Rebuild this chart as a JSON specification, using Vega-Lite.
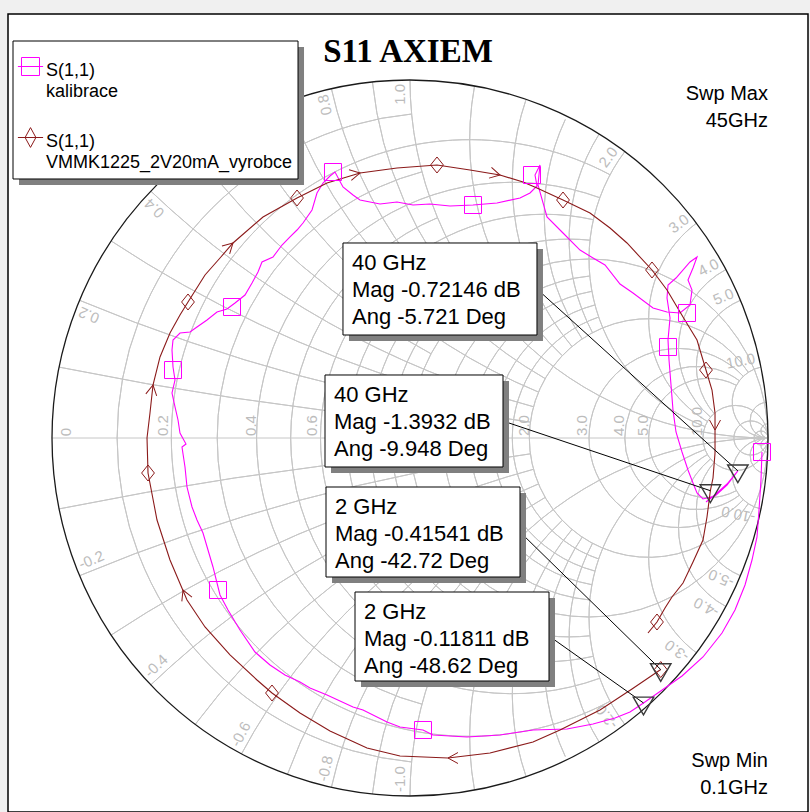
{
  "$schema": "https://vega.github.io/schema/vega-lite/v6.json",
  "width": 800,
  "height": 798,
  "autosize": "none",
  "padding": {"left": 8, "top": 14, "right": 2, "bottom": 0},
  "background": "#f0f0f0",
  "title": {"text": "S11 AXIEM", "font": "Liberation Serif", "fontSize": 33, "fontWeight": "bold", "color": "#000000", "anchor": "middle", "frame": "group", "offset": -81, "baseline": "alphabetic"},
  "config": {"view": {"fill": "white", "stroke": "#000000", "strokeWidth": 1.5}},
  "datasets": {
    "grid": [
      {"gx":0.090909,"gy":0,"rad":0.909091,"t1":-3.04639,"t2":-0.09517},
      {"gx":0.166667,"gy":0,"rad":0.833333,"t1":-3.63155,"t2":0.48995},
      {"gx":0.230769,"gy":0,"rad":0.769231,"t1":-2.88218,"t2":-0.25939},
      {"gx":0.285714,"gy":0,"rad":0.714286,"t1":-3.49094,"t2":0.34935},
      {"gx":0.333333,"gy":0,"rad":0.666667,"t1":-2.74680,"t2":-0.39479},
      {"gx":0.375,"gy":0,"rad":0.625,"t1":-3.36290,"t2":0.22131},
      {"gx":0.411765,"gy":0,"rad":0.588235,"t1":-2.63426,"t2":-0.50733},
      {"gx":0.444444,"gy":0,"rad":0.555556,"t1":-3.24676,"t2":0.10517},
      {"gx":0.473684,"gy":0,"rad":0.526316,"t1":-2.53977,"t2":-0.60182},
      {"gx":0.5,"gy":0,"rad":0.5,"t1":0,"t2":6.28319},
      {"gx":0.545455,"gy":0,"rad":0.454545,"t1":-3.04639,"t2":-0.09517},
      {"gx":0.583333,"gy":0,"rad":0.416667,"t1":-2.96025,"t2":-0.18132},
      {"gx":0.615385,"gy":0,"rad":0.384615,"t1":-2.88218,"t2":-0.25939},
      {"gx":0.642857,"gy":0,"rad":0.357143,"t1":-2.81128,"t2":-0.33029},
      {"gx":0.666667,"gy":0,"rad":0.333333,"t1":-4.12950,"t2":0.98788},
      {"gx":0.75,"gy":0,"rad":0.25,"t1":-3.95140,"t2":0.80978},
      {"gx":0.8,"gy":0,"rad":0.2,"t1":-3.78512,"t2":0.64350},
      {"gx":0.833333,"gy":0,"rad":0.166667,"t1":-3.63155,"t2":0.48995},
      {"gx":0.909091,"gy":0,"rad":0.090909,"t1":0,"t2":6.28319},
      {"gx":0.952381,"gy":0,"rad":0.047619,"t1":0,"t2":6.28319},
      {"gx":0.980392,"gy":0,"rad":0.019608,"t1":0,"t2":6.28319},
      {"gx":1,"gy":10,"rad":10,"t1":3.24151,"t2":3.34093},
      {"gx":1,"gy":-10,"rad":10,"t1":-0.19934,"t2":-0.09992},
      {"gx":1,"gy":5,"rad":5,"t1":3.27472,"t2":3.53638},
      {"gx":1,"gy":-5,"rad":5,"t1":-0.39479,"t2":-0.13313},
      {"gx":1,"gy":3.333333,"rad":3.333333,"t1":3.43938,"t2":3.72449},
      {"gx":1,"gy":-3.333333,"rad":3.333333,"t1":-0.58290,"t2":-0.29779},
      {"gx":1,"gy":2.5,"rad":2.5,"t1":3.40669,"t2":3.90261},
      {"gx":1,"gy":-2.5,"rad":2.5,"t1":-0.76102,"t2":-0.26510},
      {"gx":1,"gy":2,"rad":2,"t1":3.63154,"t2":4.06889},
      {"gx":1,"gy":-2,"rad":2,"t1":-0.92730,"t2":-0.48995},
      {"gx":1,"gy":1.666667,"rad":1.666667,"t1":3.53638,"t2":4.22244},
      {"gx":1,"gy":-1.666667,"rad":1.666667,"t1":-1.08085,"t2":-0.39479},
      {"gx":1,"gy":1.428571,"rad":1.428571,"t1":3.81494,"t2":4.36304},
      {"gx":1,"gy":-1.428571,"rad":1.428571,"t1":-1.22145,"t2":-0.67335},
      {"gx":1,"gy":1.25,"rad":1.25,"t1":3.66278,"t2":4.49108},
      {"gx":1,"gy":-1.25,"rad":1.25,"t1":-1.34949,"t2":-0.52119},
      {"gx":1,"gy":1.111111,"rad":1.111111,"t1":3.98729,"t2":4.60721},
      {"gx":1,"gy":-1.111111,"rad":1.111111,"t1":-1.46562,"t2":-0.84570},
      {"gx":1,"gy":1,"rad":1,"t1":3.14159,"t2":4.71239},
      {"gx":1,"gy":-1,"rad":1,"t1":-1.57080,"t2":0},
      {"gx":1,"gy":0.833333,"rad":0.833333,"t1":3.90261,"t2":4.89371},
      {"gx":1,"gy":-0.833333,"rad":0.833333,"t1":-1.75212,"t2":-0.76102},
      {"gx":1,"gy":0.714286,"rad":0.714286,"t1":4.01485,"t2":5.04268},
      {"gx":1,"gy":-0.714286,"rad":0.714286,"t1":-1.90109,"t2":-0.87326},
      {"gx":1,"gy":0.625,"rad":0.625,"t1":4.12151,"t2":5.14973},
      {"gx":1,"gy":-0.625,"rad":0.625,"t1":-2.00814,"t2":-0.97992},
      {"gx":1,"gy":0.555556,"rad":0.555556,"t1":4.22244,"t2":5.26900},
      {"gx":1,"gy":-0.555556,"rad":0.555556,"t1":-2.12741,"t2":-1.08085},
      {"gx":1,"gy":0.5,"rad":0.5,"t1":3.50130,"t2":5.35589},
      {"gx":1,"gy":-0.5,"rad":0.5,"t1":-2.21430,"t2":-0.35971},
      {"gx":1,"gy":0.333333,"rad":0.333333,"t1":3.67409,"t2":5.63968},
      {"gx":1,"gy":-0.333333,"rad":0.333333,"t1":-2.49809,"t2":-0.53250},
      {"gx":1,"gy":0.25,"rad":0.25,"t1":3.83913,"t2":5.79324},
      {"gx":1,"gy":-0.25,"rad":0.25,"t1":-2.65165,"t2":-0.69754},
      {"gx":1,"gy":0.2,"rad":0.2,"t1":3.99485,"t2":5.88839},
      {"gx":1,"gy":-0.2,"rad":0.2,"t1":-2.74680,"t2":-0.85326},
      {"gx":1,"gy":0.1,"rad":0.1,"t1":3.14159,"t2":6.08385},
      {"gx":1,"gy":-0.1,"rad":0.1,"t1":-2.94226,"t2":0},
      {"gx":1,"gy":0.05,"rad":0.05,"t1":3.14159,"t2":6.18329},
      {"gx":1,"gy":-0.05,"rad":0.05,"t1":-3.04170,"t2":0},
      {"gx":1,"gy":0.02,"rad":0.02,"t1":3.14159,"t2":6.24318},
      {"gx":1,"gy":-0.02,"rad":0.02,"t1":-3.10159,"t2":0}
    ],
    "rim": [{"gx":0,"gy":0,"rad":1,"t1":0,"t2":6.28319}],
    "axisline": [{"gx":-1,"gx2":1,"gy":0}],
    "glabels": [
      {"t":"0","gx":-0.9609,"gy":0.0168,"rot":-90},
      {"t":"0.2","gx":-0.6899,"gy":0.0349,"rot":-90},
      {"t":"0.4","gx":-0.4441,"gy":0.0349,"rot":-90},
      {"t":"0.6","gx":-0.2737,"gy":0.0349,"rot":-90},
      {"t":"0.8","gx":-0.1271,"gy":0.0349,"rot":-90},
      {"t":"1.0","gx":-0.0168,"gy":0.0349,"rot":-90},
      {"t":"2.0","gx":0.3184,"gy":0.0349,"rot":-90},
      {"t":"3.0","gx":0.4804,"gy":0.0349,"rot":-90},
      {"t":"4.0","gx":0.5838,"gy":0.0349,"rot":-90},
      {"t":"5.0","gx":0.6508,"gy":0.0349,"rot":-90},
      {"t":"10.0","gx":0.8017,"gy":0.0461,"rot":-90},
      {"t":"0.2","gx":-0.8967,"gy":0.3434,"rot":-157.38},
      {"t":"0.4","gx":-0.7143,"gy":0.6417,"rot":-136.40},
      {"t":"0.6","gx":-0.4763,"gy":0.8337,"rot":-118.07},
      {"t":"0.8","gx":-0.2379,"gy":0.9303,"rot":-102.68},
      {"t":"1.0","gx":-0.0279,"gy":0.9598,"rot":-90},
      {"t":"2.0","gx":0.5535,"gy":0.7846,"rot":-53.13},
      {"t":"3.0","gx":0.7511,"gy":0.5982,"rot":-36.87},
      {"t":"4.0","gx":0.8337,"gy":0.4763,"rot":-28.07},
      {"t":"5.0","gx":0.8752,"gy":0.3949,"rot":-22.62},
      {"t":"10.0","gx":0.9237,"gy":0.2151,"rot":-11.42},
      {"t":"-0.2","gx":-0.8903,"gy":-0.3407,"rot":-22.62},
      {"t":"-0.4","gx":-0.7092,"gy":-0.6369,"rot":-43.60},
      {"t":"-0.6","gx":-0.4730,"gy":-0.8276,"rot":-61.93},
      {"t":"-0.8","gx":-0.2364,"gy":-0.9234,"rot":-77.32},
      {"t":"-1.0","gx":-0.0279,"gy":-0.9528,"rot":-90},
      {"t":"-2.0","gx":0.5493,"gy":-0.7790,"rot":-126.87},
      {"t":"-3.0","gx":0.7455,"gy":-0.5940,"rot":-143.13},
      {"t":"-4.0","gx":0.8276,"gy":-0.4730,"rot":-151.93},
      {"t":"-5.0","gx":0.8688,"gy":-0.3923,"rot":-157.38},
      {"t":"-10.0","gx":0.9169,"gy":-0.2137,"rot":-168.58}
    ],
    "traces": [
      {"s":"kalibrace","i":1,"gx":0.9832,"gy":-0.0391},
      {"s":"kalibrace","i":2,"gx":0.9804,"gy":-0.1173},
      {"s":"kalibrace","i":3,"gx":0.9749,"gy":-0.2011},
      {"s":"kalibrace","i":4,"gx":0.9693,"gy":-0.2765},
      {"s":"kalibrace","i":5,"gx":0.9553,"gy":-0.3408},
      {"s":"kalibrace","i":6,"gx":0.9358,"gy":-0.4106},
      {"s":"kalibrace","i":7,"gx":0.9078,"gy":-0.4804},
      {"s":"kalibrace","i":8,"gx":0.8715,"gy":-0.5447},
      {"s":"kalibrace","i":9,"gx":0.8184,"gy":-0.6117},
      {"s":"kalibrace","i":10,"gx":0.7598,"gy":-0.6648},
      {"s":"kalibrace","i":11,"gx":0.7123,"gy":-0.6983},
      {"s":"kalibrace","i":12,"gx":0.6522,"gy":-0.7401},
      {"s":"kalibrace","i":13,"gx":0.6145,"gy":-0.7654},
      {"s":"kalibrace","i":14,"gx":0.5726,"gy":-0.7821},
      {"s":"kalibrace","i":15,"gx":0.5112,"gy":-0.7989},
      {"s":"kalibrace","i":16,"gx":0.4385,"gy":-0.8128},
      {"s":"kalibrace","i":17,"gx":0.3436,"gy":-0.8156},
      {"s":"kalibrace","i":18,"gx":0.2514,"gy":-0.8296},
      {"s":"kalibrace","i":19,"gx":0.1592,"gy":-0.8352},
      {"s":"kalibrace","i":20,"gx":0.0642,"gy":-0.8296},
      {"s":"kalibrace","i":21,"gx":0.0363,"gy":-0.8156},
      {"s":"kalibrace","i":22,"gx":-0.0279,"gy":-0.8073},
      {"s":"kalibrace","i":23,"gx":-0.0642,"gy":-0.7933},
      {"s":"kalibrace","i":24,"gx":-0.1313,"gy":-0.7598},
      {"s":"kalibrace","i":25,"gx":-0.1592,"gy":-0.7514},
      {"s":"kalibrace","i":26,"gx":-0.2318,"gy":-0.7179},
      {"s":"kalibrace","i":27,"gx":-0.2793,"gy":-0.6983},
      {"s":"kalibrace","i":28,"gx":-0.3073,"gy":-0.6816},
      {"s":"kalibrace","i":29,"gx":-0.3492,"gy":-0.6620},
      {"s":"kalibrace","i":30,"gx":-0.3911,"gy":-0.6341},
      {"s":"kalibrace","i":31,"gx":-0.4330,"gy":-0.5978},
      {"s":"kalibrace","i":32,"gx":-0.4749,"gy":-0.5363},
      {"s":"kalibrace","i":33,"gx":-0.5084,"gy":-0.4804},
      {"s":"kalibrace","i":34,"gx":-0.5307,"gy":-0.4385},
      {"s":"kalibrace","i":35,"gx":-0.5503,"gy":-0.3603},
      {"s":"kalibrace","i":36,"gx":-0.5782,"gy":-0.2654},
      {"s":"kalibrace","i":37,"gx":-0.5950,"gy":-0.2291},
      {"s":"kalibrace","i":38,"gx":-0.6089,"gy":-0.1927},
      {"s":"kalibrace","i":39,"gx":-0.6229,"gy":-0.1369},
      {"s":"kalibrace","i":40,"gx":-0.6285,"gy":-0.0810},
      {"s":"kalibrace","i":41,"gx":-0.6369,"gy":-0.0251},
      {"s":"kalibrace","i":42,"gx":-0.6257,"gy":-0.0168},
      {"s":"kalibrace","i":43,"gx":-0.6425,"gy":0.0140},
      {"s":"kalibrace","i":44,"gx":-0.6480,"gy":0.0503},
      {"s":"kalibrace","i":45,"gx":-0.6564,"gy":0.0866},
      {"s":"kalibrace","i":46,"gx":-0.6648,"gy":0.1257},
      {"s":"kalibrace","i":47,"gx":-0.6564,"gy":0.1620},
      {"s":"kalibrace","i":48,"gx":-0.6620,"gy":0.1983},
      {"s":"kalibrace","i":49,"gx":-0.6648,"gy":0.2458},
      {"s":"kalibrace","i":50,"gx":-0.6620,"gy":0.2737},
      {"s":"kalibrace","i":51,"gx":-0.6425,"gy":0.2933},
      {"s":"kalibrace","i":52,"gx":-0.6145,"gy":0.2961},
      {"s":"kalibrace","i":53,"gx":-0.5950,"gy":0.3101},
      {"s":"kalibrace","i":54,"gx":-0.5670,"gy":0.3296},
      {"s":"kalibrace","i":55,"gx":-0.5391,"gy":0.3520},
      {"s":"kalibrace","i":56,"gx":-0.5112,"gy":0.3603},
      {"s":"kalibrace","i":57,"gx":-0.4888,"gy":0.3771},
      {"s":"kalibrace","i":58,"gx":-0.4609,"gy":0.3994},
      {"s":"kalibrace","i":59,"gx":-0.4413,"gy":0.4330},
      {"s":"kalibrace","i":60,"gx":-0.4246,"gy":0.4637},
      {"s":"kalibrace","i":61,"gx":-0.4134,"gy":0.4916},
      {"s":"kalibrace","i":62,"gx":-0.3827,"gy":0.5056},
      {"s":"kalibrace","i":63,"gx":-0.3575,"gy":0.5391},
      {"s":"kalibrace","i":64,"gx":-0.3352,"gy":0.5615},
      {"s":"kalibrace","i":65,"gx":-0.3156,"gy":0.5810},
      {"s":"kalibrace","i":66,"gx":-0.2989,"gy":0.6006},
      {"s":"kalibrace","i":67,"gx":-0.2737,"gy":0.6369},
      {"s":"kalibrace","i":68,"gx":-0.2598,"gy":0.6844},
      {"s":"kalibrace","i":69,"gx":-0.2430,"gy":0.7123},
      {"s":"kalibrace","i":70,"gx":-0.2235,"gy":0.7318},
      {"s":"kalibrace","i":71,"gx":-0.2095,"gy":0.7430},
      {"s":"kalibrace","i":72,"gx":-0.1872,"gy":0.7011},
      {"s":"kalibrace","i":73,"gx":-0.1592,"gy":0.6788},
      {"s":"kalibrace","i":74,"gx":-0.1397,"gy":0.6648},
      {"s":"kalibrace","i":75,"gx":-0.0838,"gy":0.6536},
      {"s":"kalibrace","i":76,"gx":-0.0363,"gy":0.6592},
      {"s":"kalibrace","i":77,"gx":0.0084,"gy":0.6508},
      {"s":"kalibrace","i":78,"gx":0.0559,"gy":0.6536},
      {"s":"kalibrace","i":79,"gx":0.1117,"gy":0.6480},
      {"s":"kalibrace","i":80,"gx":0.1760,"gy":0.6508},
      {"s":"kalibrace","i":81,"gx":0.2430,"gy":0.6564},
      {"s":"kalibrace","i":82,"gx":0.3073,"gy":0.6704},
      {"s":"kalibrace","i":83,"gx":0.3352,"gy":0.6844},
      {"s":"kalibrace","i":84,"gx":0.3547,"gy":0.7039},
      {"s":"kalibrace","i":85,"gx":0.3492,"gy":0.7346},
      {"s":"kalibrace","i":86,"gx":0.3631,"gy":0.7626},
      {"s":"kalibrace","i":87,"gx":0.3575,"gy":0.7067},
      {"s":"kalibrace","i":88,"gx":0.3827,"gy":0.6173},
      {"s":"kalibrace","i":89,"gx":0.4274,"gy":0.5726},
      {"s":"kalibrace","i":90,"gx":0.4749,"gy":0.5251},
      {"s":"kalibrace","i":91,"gx":0.5112,"gy":0.5028},
      {"s":"kalibrace","i":92,"gx":0.5447,"gy":0.4832},
      {"s":"kalibrace","i":93,"gx":0.5866,"gy":0.4302},
      {"s":"kalibrace","i":94,"gx":0.6229,"gy":0.4050},
      {"s":"kalibrace","i":95,"gx":0.6788,"gy":0.3631},
      {"s":"kalibrace","i":96,"gx":0.7179,"gy":0.3520},
      {"s":"kalibrace","i":97,"gx":0.7542,"gy":0.3492},
      {"s":"kalibrace","i":98,"gx":0.7821,"gy":0.3715},
      {"s":"kalibrace","i":99,"gx":0.7877,"gy":0.4134},
      {"s":"kalibrace","i":100,"gx":0.7765,"gy":0.4413},
      {"s":"kalibrace","i":101,"gx":0.7905,"gy":0.4749},
      {"s":"kalibrace","i":102,"gx":0.8017,"gy":0.5056},
      {"s":"kalibrace","i":103,"gx":0.7821,"gy":0.4916},
      {"s":"kalibrace","i":104,"gx":0.7430,"gy":0.4469},
      {"s":"kalibrace","i":105,"gx":0.7207,"gy":0.4274},
      {"s":"kalibrace","i":106,"gx":0.7179,"gy":0.3911},
      {"s":"kalibrace","i":107,"gx":0.7263,"gy":0.3352},
      {"s":"kalibrace","i":108,"gx":0.7207,"gy":0.2737},
      {"s":"kalibrace","i":109,"gx":0.7235,"gy":0.2179},
      {"s":"kalibrace","i":110,"gx":0.7291,"gy":0.1480},
      {"s":"kalibrace","i":111,"gx":0.7346,"gy":0.0782},
      {"s":"kalibrace","i":112,"gx":0.7430,"gy":0.0168},
      {"s":"kalibrace","i":113,"gx":0.7598,"gy":-0.0391},
      {"s":"kalibrace","i":114,"gx":0.7765,"gy":-0.0894},
      {"s":"kalibrace","i":115,"gx":0.7905,"gy":-0.1257},
      {"s":"kalibrace","i":116,"gx":0.8017,"gy":-0.1536},
      {"s":"kalibrace","i":117,"gx":0.8184,"gy":-0.1704},
      {"s":"kalibrace","i":118,"gx":0.8520,"gy":-0.1620},
      {"s":"kalibrace","i":119,"gx":0.8855,"gy":-0.1313},
      {"s":"kalibrace","i":120,"gx":0.9158,"gy":-0.0917},
      {"s":"kalibrace","i":121,"gx":0.8855,"gy":-0.1285},
      {"s":"kalibrace","i":122,"gx":0.8547,"gy":-0.1564},
      {"s":"kalibrace","i":123,"gx":0.8268,"gy":-0.1788},
      {"s":"VMMK1225_2V20mA_vyrobce","i":1,"gx":0.7004,"gy":-0.6468},
      {"s":"VMMK1225_2V20mA_vyrobce","i":2,"gx":0.6201,"gy":-0.7011},
      {"s":"VMMK1225_2V20mA_vyrobce","i":3,"gx":0.5307,"gy":-0.7598},
      {"s":"VMMK1225_2V20mA_vyrobce","i":4,"gx":0.4190,"gy":-0.8156},
      {"s":"VMMK1225_2V20mA_vyrobce","i":5,"gx":0.3436,"gy":-0.8492},
      {"s":"VMMK1225_2V20mA_vyrobce","i":6,"gx":0.2235,"gy":-0.8799},
      {"s":"VMMK1225_2V20mA_vyrobce","i":7,"gx":0.1061,"gy":-0.8939},
      {"s":"VMMK1225_2V20mA_vyrobce","i":8,"gx":-0.0279,"gy":-0.8883},
      {"s":"VMMK1225_2V20mA_vyrobce","i":9,"gx":-0.1201,"gy":-0.8659},
      {"s":"VMMK1225_2V20mA_vyrobce","i":10,"gx":-0.2235,"gy":-0.8184},
      {"s":"VMMK1225_2V20mA_vyrobce","i":11,"gx":-0.3073,"gy":-0.7682},
      {"s":"VMMK1225_2V20mA_vyrobce","i":12,"gx":-0.3855,"gy":-0.7123},
      {"s":"VMMK1225_2V20mA_vyrobce","i":13,"gx":-0.4274,"gy":-0.6760},
      {"s":"VMMK1225_2V20mA_vyrobce","i":14,"gx":-0.5028,"gy":-0.6061},
      {"s":"VMMK1225_2V20mA_vyrobce","i":15,"gx":-0.5726,"gy":-0.5279},
      {"s":"VMMK1225_2V20mA_vyrobce","i":16,"gx":-0.6229,"gy":-0.4525},
      {"s":"VMMK1225_2V20mA_vyrobce","i":17,"gx":-0.6704,"gy":-0.3408},
      {"s":"VMMK1225_2V20mA_vyrobce","i":18,"gx":-0.7067,"gy":-0.2291},
      {"s":"VMMK1225_2V20mA_vyrobce","i":19,"gx":-0.7318,"gy":-0.0978},
      {"s":"VMMK1225_2V20mA_vyrobce","i":20,"gx":-0.7346,"gy":0},
      {"s":"VMMK1225_2V20mA_vyrobce","i":21,"gx":-0.7263,"gy":0.0698},
      {"s":"VMMK1225_2V20mA_vyrobce","i":22,"gx":-0.7179,"gy":0.1480},
      {"s":"VMMK1225_2V20mA_vyrobce","i":23,"gx":-0.6983,"gy":0.2263},
      {"s":"VMMK1225_2V20mA_vyrobce","i":24,"gx":-0.6704,"gy":0.2933},
      {"s":"VMMK1225_2V20mA_vyrobce","i":25,"gx":-0.6425,"gy":0.3436},
      {"s":"VMMK1225_2V20mA_vyrobce","i":26,"gx":-0.6201,"gy":0.3799},
      {"s":"VMMK1225_2V20mA_vyrobce","i":27,"gx":-0.5726,"gy":0.4553},
      {"s":"VMMK1225_2V20mA_vyrobce","i":28,"gx":-0.5307,"gy":0.5028},
      {"s":"VMMK1225_2V20mA_vyrobce","i":29,"gx":-0.4944,"gy":0.5447},
      {"s":"VMMK1225_2V20mA_vyrobce","i":30,"gx":-0.4106,"gy":0.6173},
      {"s":"VMMK1225_2V20mA_vyrobce","i":31,"gx":-0.3156,"gy":0.6704},
      {"s":"VMMK1225_2V20mA_vyrobce","i":32,"gx":-0.2318,"gy":0.7123},
      {"s":"VMMK1225_2V20mA_vyrobce","i":33,"gx":-0.1397,"gy":0.7402},
      {"s":"VMMK1225_2V20mA_vyrobce","i":34,"gx":-0.0363,"gy":0.7542},
      {"s":"VMMK1225_2V20mA_vyrobce","i":35,"gx":0.0754,"gy":0.7626},
      {"s":"VMMK1225_2V20mA_vyrobce","i":36,"gx":0.1676,"gy":0.7486},
      {"s":"VMMK1225_2V20mA_vyrobce","i":37,"gx":0.2514,"gy":0.7346},
      {"s":"VMMK1225_2V20mA_vyrobce","i":38,"gx":0.3156,"gy":0.7151},
      {"s":"VMMK1225_2V20mA_vyrobce","i":39,"gx":0.3547,"gy":0.6983},
      {"s":"VMMK1225_2V20mA_vyrobce","i":40,"gx":0.4274,"gy":0.6648},
      {"s":"VMMK1225_2V20mA_vyrobce","i":41,"gx":0.5028,"gy":0.6285},
      {"s":"VMMK1225_2V20mA_vyrobce","i":42,"gx":0.5587,"gy":0.5866},
      {"s":"VMMK1225_2V20mA_vyrobce","i":43,"gx":0.6061,"gy":0.5447},
      {"s":"VMMK1225_2V20mA_vyrobce","i":44,"gx":0.6760,"gy":0.4693},
      {"s":"VMMK1225_2V20mA_vyrobce","i":45,"gx":0.7179,"gy":0.4134},
      {"s":"VMMK1225_2V20mA_vyrobce","i":46,"gx":0.7626,"gy":0.3380},
      {"s":"VMMK1225_2V20mA_vyrobce","i":47,"gx":0.8017,"gy":0.2737},
      {"s":"VMMK1225_2V20mA_vyrobce","i":48,"gx":0.8268,"gy":0.1899},
      {"s":"VMMK1225_2V20mA_vyrobce","i":49,"gx":0.8436,"gy":0.1341},
      {"s":"VMMK1225_2V20mA_vyrobce","i":50,"gx":0.8520,"gy":0.0698},
      {"s":"VMMK1225_2V20mA_vyrobce","i":51,"gx":0.8520,"gy":0.0223},
      {"s":"VMMK1225_2V20mA_vyrobce","i":52,"gx":0.8520,"gy":-0.0419},
      {"s":"VMMK1225_2V20mA_vyrobce","i":53,"gx":0.8464,"gy":-0.1117},
      {"s":"VMMK1225_2V20mA_vyrobce","i":54,"gx":0.8390,"gy":-0.1472},
      {"s":"VMMK1225_2V20mA_vyrobce","i":55,"gx":0.8296,"gy":-0.2207},
      {"s":"VMMK1225_2V20mA_vyrobce","i":56,"gx":0.8184,"gy":-0.2849},
      {"s":"VMMK1225_2V20mA_vyrobce","i":57,"gx":0.7905,"gy":-0.3464},
      {"s":"VMMK1225_2V20mA_vyrobce","i":58,"gx":0.7626,"gy":-0.4050},
      {"s":"VMMK1225_2V20mA_vyrobce","i":59,"gx":0.7318,"gy":-0.4441},
      {"s":"VMMK1225_2V20mA_vyrobce","i":60,"gx":0.7123,"gy":-0.4749},
      {"s":"VMMK1225_2V20mA_vyrobce","i":61,"gx":0.6899,"gy":-0.5140},
      {"s":"VMMK1225_2V20mA_vyrobce","i":62,"gx":0.6648,"gy":-0.5447}
    ],
    "squares": [
      {"gx":0.9832,"gy":-0.0391},{"gx":0.0363,"gy":-0.8156},{"gx":-0.5363,"gy":-0.4246},
      {"gx":-0.6620,"gy":0.1899},{"gx":-0.4972,"gy":0.3659},{"gx":-0.2151,"gy":0.7430},
      {"gx":0.1760,"gy":0.6508},{"gx":0.3408,"gy":0.7346},{"gx":0.7737,"gy":0.3492},
      {"gx":0.7207,"gy":0.2542}
    ],
    "diamonds": [
      {"gx":0.7004,"gy":-0.6468},{"gx":-0.3855,"gy":-0.7123},{"gx":-0.7318,"gy":-0.0978},
      {"gx":-0.6201,"gy":0.3799},{"gx":-0.3156,"gy":0.6704},{"gx":0.0754,"gy":0.7626},
      {"gx":0.4274,"gy":0.6648},{"gx":0.6760,"gy":0.4693},{"gx":0.8268,"gy":0.1899},
      {"gx":0.6899,"gy":-0.5140}
    ],
    "arrows": [
      {"gx":0.1061,"gy":-0.8939,"hd":180},{"gx":-0.7179,"gy":0.1480,"hd":280},
      {"gx":-0.6341,"gy":-0.4246,"hd":247},{"gx":-0.4944,"gy":0.5447,"hd":316},
      {"gx":-0.1397,"gy":0.7402,"hd":348},{"gx":0.2514,"gy":0.7346,"hd":13},
      {"gx":0.8520,"gy":0.0223,"hd":90}
    ],
    "boxes": [
      {"id":"A","x1":-0.1872,"x2":0.3547,"y1":0.5447,"y2":0.2877,"text":"40 GHz\nMag -0.72146 dB\nAng -5.721 Deg","lx":0.3547,"ly":0.4162,"mx":0.9158,"my":-0.0917},
      {"id":"B","x1":-0.2374,"x2":0.2598,"y1":0.1760,"y2":-0.0810,"text":"40 GHz\nMag -1.3932 dB\nAng -9.948 Deg","lx":0.2598,"ly":0.0475,"mx":0.8390,"my":-0.1472},
      {"id":"C","x1":-0.2346,"x2":0.3073,"y1":-0.1369,"y2":-0.3883,"text":"2 GHz\nMag -0.41541 dB\nAng -42.72 Deg","lx":0.3073,"ly":-0.2626,"mx":0.7004,"my":-0.6468},
      {"id":"D","x1":-0.1536,"x2":0.3883,"y1":-0.4302,"y2":-0.6788,"text":"2 GHz\nMag -0.11811 dB\nAng -48.62 Deg","lx":0.3883,"ly":-0.5531,"mx":0.6522,"my":-0.7401},
      {"id":"L","x1":-1.1089,"x2":-0.3128,"y1":1.1089,"y2":0.7235,"text":""}
    ],
    "notes": [
      {"t":"Swp Max\n45GHz","gx":1.0,"gy":0.9441},
      {"t":"Swp Min\n0.1GHz","gx":1.0,"gy":-0.9190}
    ]
  },
  "layer": [
    {
      "data": {"name": "grid"},
      "mark": {"type": "arc", "filled": false, "stroke": "#c6c6c6", "strokeWidth": 1},
      "encoding": {
        "x": {"field": "gx", "type": "quantitative", "scale": {"domain": [-1.12291, 1.11173], "nice": false, "zero": false}, "axis": null},
        "y": {"field": "gy", "type": "quantitative", "scale": {"domain": [-1.04469, 1.18436], "nice": false, "zero": false}, "axis": null},
        "theta": {"field": "t1", "type": "quantitative", "scale": null, "stack": null},
        "theta2": {"field": "t2"},
        "radius": {"field": "rad", "type": "quantitative", "scale": {"type": "linear", "domain": [0, 1], "range": [0, 358], "zero": true}},
        "radius2": {"field": "rad"}
      }
    },
    {
      "data": {"name": "axisline"},
      "mark": {"type": "rule", "stroke": "#c6c6c6", "strokeWidth": 1},
      "encoding": {
        "x": {"field": "gx", "type": "quantitative", "scale": {"domain": [-1.12291, 1.11173], "nice": false, "zero": false}, "axis": null},
        "x2": {"field": "gx2"},
        "y": {"field": "gy", "type": "quantitative", "scale": {"domain": [-1.04469, 1.18436], "nice": false, "zero": false}, "axis": null}
      }
    },
    {
      "data": {"name": "rim"},
      "mark": {"type": "arc", "filled": false, "stroke": "#1a1a1a", "strokeWidth": 1.3},
      "encoding": {
        "x": {"field": "gx", "type": "quantitative", "scale": {"domain": [-1.12291, 1.11173], "nice": false, "zero": false}, "axis": null},
        "y": {"field": "gy", "type": "quantitative", "scale": {"domain": [-1.04469, 1.18436], "nice": false, "zero": false}, "axis": null},
        "theta": {"field": "t1", "type": "quantitative", "scale": null, "stack": null},
        "theta2": {"field": "t2"},
        "radius": {"field": "rad", "type": "quantitative", "scale": {"type": "linear", "domain": [0, 1], "range": [0, 358], "zero": true}},
        "radius2": {"field": "rad"}
      }
    },
    {
      "data": {"name": "glabels"},
      "mark": {"type": "text", "font": "Liberation Sans", "fontSize": 15, "color": "#bcbcbc", "align": "center", "baseline": "middle"},
      "encoding": {
        "x": {"field": "gx", "type": "quantitative", "scale": {"domain": [-1.12291, 1.11173], "nice": false, "zero": false}, "axis": null},
        "y": {"field": "gy", "type": "quantitative", "scale": {"domain": [-1.04469, 1.18436], "nice": false, "zero": false}, "axis": null},
        "text": {"field": "t"},
        "angle": {"field": "rot", "type": "quantitative", "scale": null}
      }
    },
    {
      "data": {"name": "traces"},
      "mark": {"type": "line", "strokeWidth": 1.1},
      "encoding": {
        "x": {"field": "gx", "type": "quantitative", "scale": {"domain": [-1.12291, 1.11173], "nice": false, "zero": false}, "axis": null},
        "y": {"field": "gy", "type": "quantitative", "scale": {"domain": [-1.04469, 1.18436], "nice": false, "zero": false}, "axis": null},
        "order": {"field": "i", "type": "quantitative"},
        "color": {
          "field": "s", "type": "nominal",
          "scale": {"domain": ["kalibrace", "VMMK1225_2V20mA_vyrobce"], "range": ["#ff00ff", "#8b1a1a"]},
          "legend": {
            "title": null, "orient": "none", "legendX": 13, "legendY": 43, "padding": 0,
            "symbolSize": 324, "symbolStrokeWidth": 1, "symbolType": "M-1,-1H1V1H-1Z",
            "labelFont": "Liberation Sans", "labelFontSize": 18, "labelColor": "#000000",
            "labelOffset": 6, "labelLimit": 400, "rowPadding": 24, "labelBaseline": "alphabetic",
            "labelExpr": "['S(1,1)', datum.label]",
            "encode": {
              "symbols": {"update": {
                "shape": {"signal": "datum.value === 'kalibrace' ? 'M-1,-1H1V1H-1Z M-1.4,0H1.4' : 'M0,-1.1L0.6,0L0,1.1L-0.6,0Z M-1.4,0H1.4'"},
                "fill": {"value": "transparent"}
              }},
              "labels": {"update": {"dy": {"value": 9}, "lineHeight": {"value": 21}}}
            }
          }
        }
      }
    },
    {
      "data": {"name": "squares"},
      "mark": {"type": "point", "shape": "square", "size": 289, "filled": false, "stroke": "#ff00ff", "strokeWidth": 1, "opacity": 1},
      "encoding": {
        "x": {"field": "gx", "type": "quantitative", "scale": {"domain": [-1.12291, 1.11173], "nice": false, "zero": false}, "axis": null},
        "y": {"field": "gy", "type": "quantitative", "scale": {"domain": [-1.04469, 1.18436], "nice": false, "zero": false}, "axis": null}
      }
    },
    {
      "data": {"name": "diamonds"},
      "mark": {"type": "point", "shape": "M0,-1L0.8,0L0,1L-0.8,0Z", "size": 256, "filled": false, "stroke": "#8b1a1a", "strokeWidth": 1, "opacity": 1},
      "encoding": {
        "x": {"field": "gx", "type": "quantitative", "scale": {"domain": [-1.12291, 1.11173], "nice": false, "zero": false}, "axis": null},
        "y": {"field": "gy", "type": "quantitative", "scale": {"domain": [-1.04469, 1.18436], "nice": false, "zero": false}, "axis": null}
      }
    },
    {
      "data": {"name": "arrows"},
      "mark": {"type": "point", "shape": "M-1,-0.55L0,0L-1,0.55", "size": 400, "filled": false, "stroke": "#8b1a1a", "strokeWidth": 1, "opacity": 1},
      "encoding": {
        "x": {"field": "gx", "type": "quantitative", "scale": {"domain": [-1.12291, 1.11173], "nice": false, "zero": false}, "axis": null},
        "y": {"field": "gy", "type": "quantitative", "scale": {"domain": [-1.04469, 1.18436], "nice": false, "zero": false}, "axis": null},
        "angle": {"field": "hd", "type": "quantitative", "scale": null}
      }
    },
    {
      "data": {"name": "boxes"},
      "transform": [{"filter": "datum.id !== 'L'"}],
      "mark": {"type": "rule", "stroke": "#000000", "strokeWidth": 1},
      "encoding": {
        "x": {"field": "lx", "type": "quantitative", "scale": {"domain": [-1.12291, 1.11173], "nice": false, "zero": false}, "axis": null},
        "y": {"field": "ly", "type": "quantitative", "scale": {"domain": [-1.04469, 1.18436], "nice": false, "zero": false}, "axis": null},
        "x2": {"field": "mx"},
        "y2": {"field": "my"}
      }
    },
    {
      "data": {"name": "boxes"},
      "transform": [{"filter": "datum.id !== 'L'"}],
      "mark": {"type": "point", "shape": "triangle-down", "size": 420, "filled": false, "stroke": "#3a3a3a", "strokeWidth": 1.4, "opacity": 1, "yOffset": 3},
      "encoding": {
        "x": {"field": "mx", "type": "quantitative", "scale": {"domain": [-1.12291, 1.11173], "nice": false, "zero": false}, "axis": null},
        "y": {"field": "my", "type": "quantitative", "scale": {"domain": [-1.04469, 1.18436], "nice": false, "zero": false}, "axis": null}
      }
    },
    {
      "data": {"name": "boxes"},
      "mark": {"type": "rect", "fill": "#808080", "xOffset": 6, "x2Offset": 6, "yOffset": 6, "y2Offset": 6},
      "encoding": {
        "x": {"field": "x1", "type": "quantitative", "scale": {"domain": [-1.12291, 1.11173], "nice": false, "zero": false}, "axis": null},
        "x2": {"field": "x2"},
        "y": {"field": "y1", "type": "quantitative", "scale": {"domain": [-1.04469, 1.18436], "nice": false, "zero": false}, "axis": null},
        "y2": {"field": "y2"}
      }
    },
    {
      "data": {"name": "boxes"},
      "mark": {"type": "rect", "fill": "#ffffff", "stroke": "#000000", "strokeWidth": 1},
      "encoding": {
        "x": {"field": "x1", "type": "quantitative", "scale": {"domain": [-1.12291, 1.11173], "nice": false, "zero": false}, "axis": null},
        "x2": {"field": "x2"},
        "y": {"field": "y1", "type": "quantitative", "scale": {"domain": [-1.04469, 1.18436], "nice": false, "zero": false}, "axis": null},
        "y2": {"field": "y2"}
      }
    },
    {
      "data": {"name": "boxes"},
      "transform": [{"filter": "datum.id !== 'L'"}],
      "mark": {"type": "text", "lineBreak": "\n", "lineHeight": 27, "align": "left", "baseline": "alphabetic", "dx": 9, "dy": 27, "font": "Liberation Sans", "fontSize": 22, "color": "#000000"},
      "encoding": {
        "x": {"field": "x1", "type": "quantitative", "scale": {"domain": [-1.12291, 1.11173], "nice": false, "zero": false}, "axis": null},
        "y": {"field": "y1", "type": "quantitative", "scale": {"domain": [-1.04469, 1.18436], "nice": false, "zero": false}, "axis": null},
        "text": {"field": "text"}
      }
    },
    {
      "data": {"name": "notes"},
      "mark": {"type": "text", "lineBreak": "\n", "lineHeight": 27, "align": "right", "baseline": "alphabetic", "font": "Liberation Sans", "fontSize": 20, "color": "#000000"},
      "encoding": {
        "x": {"field": "gx", "type": "quantitative", "scale": {"domain": [-1.12291, 1.11173], "nice": false, "zero": false}, "axis": null},
        "y": {"field": "gy", "type": "quantitative", "scale": {"domain": [-1.04469, 1.18436], "nice": false, "zero": false}, "axis": null},
        "text": {"field": "t"}
      }
    }
  ]
}
